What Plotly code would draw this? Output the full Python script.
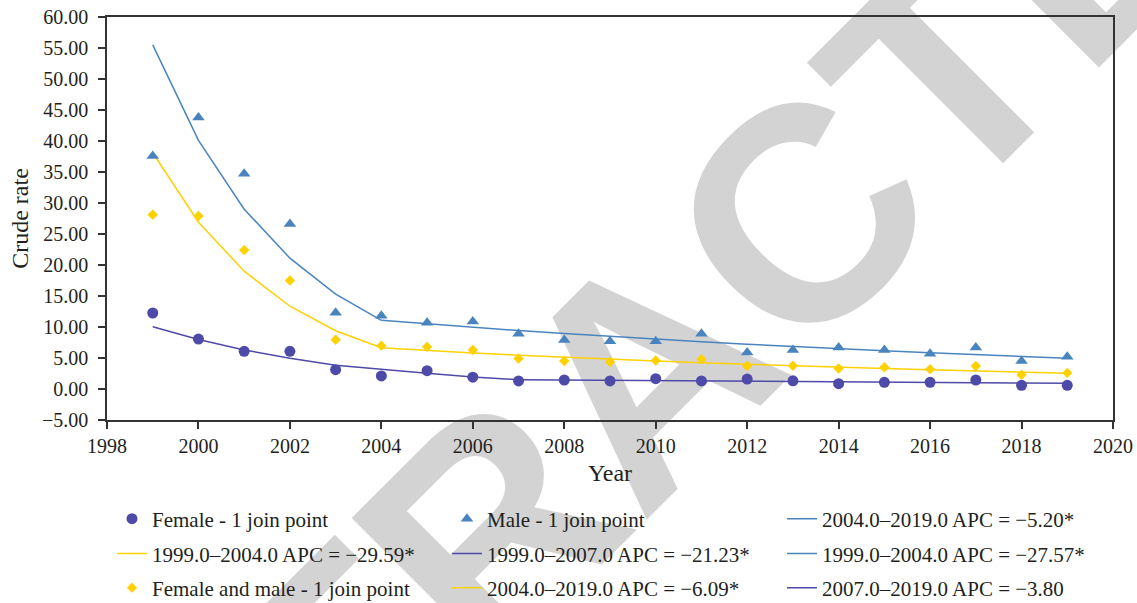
import plotly.graph_objects as go

years = list(range(1999, 2020))

female_rate = [12.26, 8.06, 6.08, 6.08, 3.12, 2.10, 2.95, 1.90, 1.30, 1.45, 1.30, 1.66,
               1.30, 1.60, 1.32, 0.86, 1.08, 1.08, 1.45, 0.60, 0.60]
male_rate = [37.6, 43.8, 34.7, 26.6, 12.3, 11.8, 10.7, 10.9, 8.9, 7.9, 7.7, 7.7,
             8.9, 5.9, 6.3, 6.7, 6.3, 5.7, 6.7, 4.5, 5.2]
both_rate = [28.1, 27.9, 22.4, 17.5, 7.95, 6.99, 6.8, 6.3, 4.9, 4.5, 4.35, 4.6,
             4.8, 3.7, 3.75, 3.3, 3.5, 3.2, 3.7, 2.3, 2.6]

# fitted (joinpoint) values
female_fit_years_a = list(range(1999, 2008))
female_fit_a = [10.05, 8.00, 6.30, 4.95, 3.85, 3.15, 2.55, 1.95, 1.50]
female_fit_years_b = list(range(2007, 2020))
female_fit_b = [1.50, 1.44, 1.39, 1.33, 1.28, 1.23, 1.19, 1.14, 1.10, 1.06, 1.02, 0.98, 0.94]

male_fit_years_a = list(range(1999, 2005))
male_fit_a = [55.5, 40.1, 29.0, 21.1, 15.3, 11.07]
male_fit_years_b = list(range(2004, 2020))
male_fit_b = [11.07, 10.49, 9.95, 9.43, 8.94, 8.47, 8.03, 7.61, 7.22, 6.84, 6.49,
              6.15, 5.83, 5.53, 5.24, 4.97]

both_fit_years_a = list(range(1999, 2005))
both_fit_a = [38.1, 26.9, 19.0, 13.35, 9.4, 6.65]
both_fit_years_b = list(range(2004, 2020))
both_fit_b = [6.65, 6.19, 5.81, 5.46, 5.12, 4.81, 4.52, 4.24, 3.98, 3.74, 3.51,
              3.30, 3.10, 2.91, 2.73, 2.56]

x_ticks = list(range(1998, 2021, 2))
y_ticks = [-5, 0, 5, 10, 15, 20, 25, 30, 35, 40, 45, 50, 55, 60]

PURPLE = "#4e4aa8"
BLUE = "#4a84bf"
YELLOW = "#ffd100"
TEXT = "#231f20"
FONT = "Liberation Serif"

fig = go.Figure()

def line(xs, ys, color, name, rank, legend):
    fig.add_trace(go.Scatter(x=xs, y=ys, mode="lines", name=name,
                             line=dict(color=color, width=1.5),
                             legendrank=rank, legend=legend))

def pts(xs, ys, color, symbol, size, name, rank, legend):
    fig.add_trace(go.Scatter(x=xs, y=ys, mode="markers", name=name,
                             marker=dict(color=color, symbol=symbol, size=size, line=dict(width=0)),
                             legendrank=rank, legend=legend))

# lines
line(male_fit_years_b, male_fit_b, BLUE, "2004.0–2019.0 APC = −5.20*", 3, "legend")
line(both_fit_years_a, both_fit_a, YELLOW, "1999.0–2004.0 APC = −29.59*", 1, "legend2")
line(female_fit_years_a, female_fit_a, PURPLE, "1999.0–2007.0 APC = −21.23*", 2, "legend2")
line(male_fit_years_a, male_fit_a, BLUE, "1999.0–2004.0 APC = −27.57*", 3, "legend2")
line(both_fit_years_b, both_fit_b, YELLOW, "2004.0–2019.0 APC = −6.09*", 2, "legend3")
line(female_fit_years_b, female_fit_b, PURPLE, "2007.0–2019.0 APC = −3.80", 3, "legend3")
# markers
pts(years, female_rate, PURPLE, "circle", 11, "Female - 1 join point", 1, "legend")
pts(years, male_rate, BLUE, "triangle-up", 11, "Male - 1 join point", 2, "legend")
pts(years, both_rate, YELLOW, "diamond", 8, "Female and male - 1 join point", 1, "legend3")

legend_common = dict(orientation="h", xref="container", yref="container", x=0.0985,
                     xanchor="left", yanchor="top", entrywidth=290, entrywidthmode="pixels",
                     font=dict(family=FONT, size=21, color=TEXT),
                     bgcolor="rgba(0,0,0,0)", traceorder="normal")

fig.update_layout(
    width=1137, height=603,
    margin=dict(l=107, r=24, t=17, b=183),
    paper_bgcolor="white", plot_bgcolor="white",
    font=dict(family=FONT, size=20, color=TEXT),
    legend=dict(legend_common, y=0.1733),
    legend2=dict(legend_common, y=0.1153),
    legend3=dict(legend_common, y=0.0589),
    xaxis=dict(range=[1998, 2020], tickmode="array", tickvals=x_ticks,
               showline=True, linecolor="#333333", linewidth=1.5, mirror=True,
               ticks="outside", ticklen=7, tickwidth=1.5, tickcolor="#333333",
               showgrid=False, zeroline=False, automargin=False,
               title=dict(text="Year", standoff=8),
               tickfont=dict(family=FONT, size=20, color=TEXT)),
    yaxis=dict(range=[-5, 60], tickmode="array", tickvals=y_ticks, tickformat=".2f",
               showline=True, linecolor="#333333", linewidth=1.5, mirror=True,
               ticks="outside", ticklen=7, tickwidth=1.5, tickcolor="#333333",
               showgrid=False, zeroline=False, ticklabelstandoff=6, automargin=False,
               title=dict(text="Crude rate", standoff=7),
               tickfont=dict(family=FONT, size=20, color=TEXT)),
)

# RETRACTED watermark, drawn beneath everything
fig.add_shape(type="rect", xref="paper", yref="paper", x0=0.464, x1=0.564, y0=0.1185, y1=0.2185,
              layer="below", line=dict(width=0), fillcolor="rgba(0,0,0,0)",
              label=dict(text="RETRACTED", textangle=-45, textposition="middle center",
                         font=dict(family="Liberation Sans", size=305, color="#d3d3d3",
                                   weight="bold")))

fig.write_html("out.html", config={"displayModeBar": False},
               post_script="document.body.style.margin='0';")
